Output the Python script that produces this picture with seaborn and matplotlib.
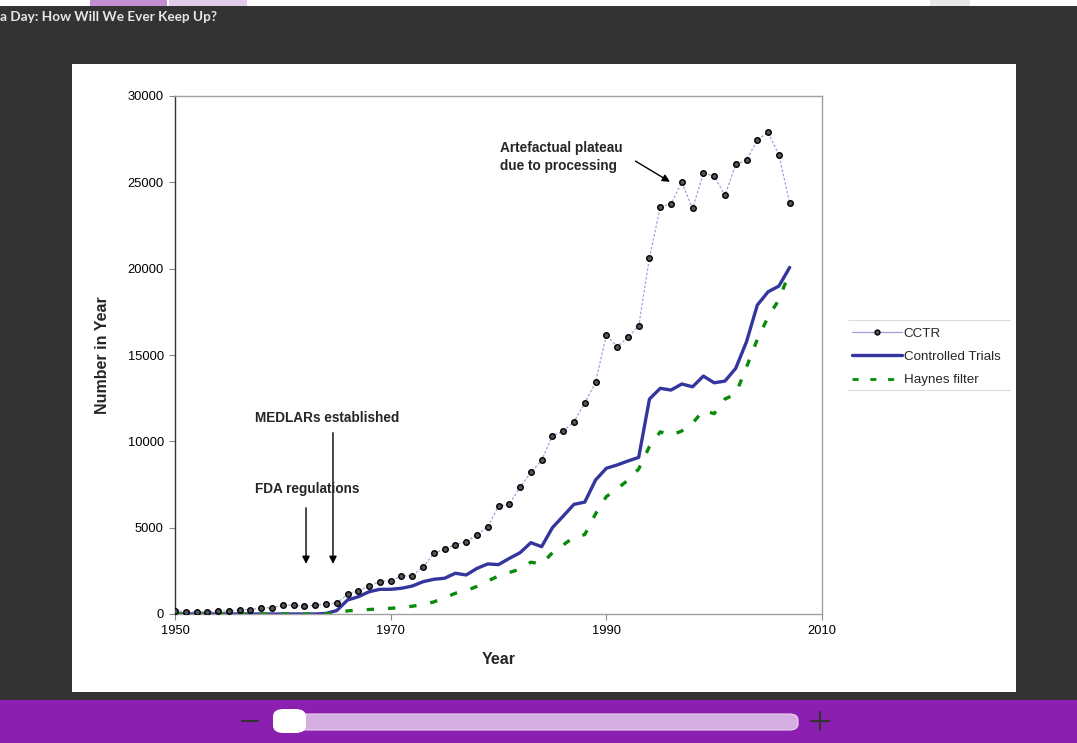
import numpy as np
import pandas as pd
import seaborn as sns
import matplotlib
matplotlib.use("Agg")
import matplotlib.pyplot as plt
from matplotlib.patches import Rectangle, FancyBboxPatch
from matplotlib.lines import Line2D

years = list(range(1950, 2008))

cctr = [190, 130, 130, 130, 170, 170, 230, 250, 360, 360,
        500, 520, 450, 520, 580, 620, 1140, 1330, 1640, 1870,
        1930, 2200, 2220, 2720, 3510, 3760, 4010, 4190, 4590, 5050,
        6240, 6350, 7350, 8200, 8900, 10310, 10600, 11130, 12220, 13410,
        16170, 15480, 16020, 16680, 20630, 23580, 23760, 25000, 23490, 25530,
        25360, 24240, 26040, 26270, 27460, 27890, 26590, 23810]

controlled = [0] * 14 + [30, 200, 810, 1000, 1290, 1430,
        1430, 1490, 1620, 1870, 2010, 2070, 2360, 2260, 2640, 2900,
        2860, 3220, 3550, 4130, 3900, 5000, 5670, 6350, 6480, 7760,
        8440, 8630, 8860, 9070, 12450, 13070, 12970, 13320, 13160, 13780,
        13390, 13490, 14230, 15770, 17890, 18660, 18990, 20070]

haynes = [0] * 15 + [50, 180, 230, 260, 290,
        330, 380, 450, 550, 700, 940, 1200, 1350, 1600, 1910,
        2200, 2400, 2600, 3000, 2900, 3550, 4000, 4450, 4600, 5800,
        6800, 7250, 7750, 8400, 9700, 10550, 10350, 10600, 11050, 11800,
        11600, 12450, 12750, 14300, 15900, 17200, 18200, 19800]

series_names = ["CCTR", "Controlled Trials", "Haynes filter"]
x_ticks = [1950, 1970, 1990, 2010]
y_ticks = [0, 5000, 10000, 15000, 20000, 25000, 30000]
title_text = "a Day: How Will We Ever Keep Up?"

df = pd.DataFrame({"Year": years, "CCTR": cctr,
                   "Controlled Trials": controlled, "Haynes filter": haynes})

sns.set_theme(style="white")
plt.rcParams["font.family"] = ["Liberation Sans", "DejaVu Sans"]

W, H = 1077, 743
fig = plt.figure(figsize=(W / 100, H / 100), dpi=100)
fig.patch.set_facecolor("#333333")

def fx(px):
    return px / W

def fy(py):
    return 1 - py / H

# top strip
fig.add_artist(Rectangle((0, fy(6)), 1, 6 / H, transform=fig.transFigure,
                         facecolor="white", edgecolor="none", zorder=0))
fig.add_artist(Rectangle((fx(90), fy(6)), 77 / W, 6 / H, transform=fig.transFigure,
                         facecolor="#c38fd3", edgecolor="none", zorder=1))
fig.add_artist(Rectangle((fx(169), fy(6)), 78 / W, 6 / H, transform=fig.transFigure,
                         facecolor="#e2cce9", edgecolor="none", zorder=1))
fig.add_artist(Rectangle((fx(930), fy(6)), 40 / W, 6 / H, transform=fig.transFigure,
                         facecolor="#e8e8e8", edgecolor="none", zorder=1))
fig.text(fx(0), fy(17), title_text, color="#e6e6e6", fontsize=9.8,
         fontweight="bold", family=["Lato", "DejaVu Sans"], va="center", ha="left")

# white slide panel
fig.add_artist(Rectangle((fx(72), fy(692)), (1016 - 72) / W, (692 - 64) / H,
                         transform=fig.transFigure, facecolor="white",
                         edgecolor="none", zorder=0))
# purple bottom bar
fig.add_artist(Rectangle((0, 0), 1, (743 - 700) / H, transform=fig.transFigure,
                         facecolor="#8a1fb0", edgecolor="none", zorder=0))
fig.add_artist(FancyBboxPatch((fx(292), fy(730)), (798 - 292) / W, 16 / H,
                              boxstyle="round,pad=0,rounding_size=0.008",
                              transform=fig.transFigure, facecolor="#d5afe1",
                              edgecolor="#e8d6ee", lw=0.8, zorder=1))
fig.add_artist(FancyBboxPatch((fx(273), fy(733)), 33 / W, 24 / H,
                              boxstyle="round,pad=0,rounding_size=0.01",
                              transform=fig.transFigure, facecolor="white",
                              edgecolor="none", zorder=2))
fig.add_artist(Line2D([fx(242), fx(258)], [fy(721), fy(721)], transform=fig.transFigure,
                      color="#333333", lw=1.5))
fig.add_artist(Line2D([fx(811), fx(829)], [fy(721), fy(721)], transform=fig.transFigure,
                      color="#333333", lw=1.5))
fig.add_artist(Line2D([fx(820), fx(820)], [fy(712), fy(730)], transform=fig.transFigure,
                      color="#333333", lw=1.5))

ax = fig.add_axes([fx(175), fy(614), (822 - 175) / W, (614 - 96) / H])
ax.set_facecolor("white")

sns.lineplot(data=df, x="Year", y="CCTR", ax=ax, color="#a0a0e0", lw=0.9,
             linestyle=(0, (2, 1.5)), marker="o", markersize=4.0,
             markerfacecolor="#555555", markeredgecolor="black",
             markeredgewidth=1.0, label="CCTR", zorder=3)
sns.lineplot(data=df, x="Year", y="Controlled Trials", ax=ax, color="#35359e",
             lw=2.4, label="Controlled Trials", zorder=2)
sns.lineplot(data=df, x="Year", y="Haynes filter", ax=ax, color="#0a8a0a",
             lw=2.4, linestyle=(0, (2.2, 4.2)), label="Haynes filter", zorder=2)

ax.set_xlim(1950, 2010)
ax.set_ylim(0, 30000)
ax.set_xticks(x_ticks)
ax.set_yticks(y_ticks)
ax.set_xticklabels([str(v) for v in x_ticks], fontsize=9.3)
ax.set_yticklabels([str(v) for v in y_ticks], fontsize=9.3)
ax.tick_params(axis="both", direction="out", length=4, width=0.8,
               color="#888888", pad=4, labelcolor="black")
ax.tick_params(left=True, bottom=True)
for s in ["top", "right", "bottom"]:
    ax.spines[s].set_color("#a0a0a0")
    ax.spines[s].set_linewidth(1.0)
ax.spines["left"].set_color("#333333")
ax.spines["left"].set_linewidth(1.0)

ax.set_xlabel("Year", fontsize=11.5, fontweight="bold", labelpad=11)
ax.set_ylabel("Number in Year", fontsize=11.5, fontweight="bold", labelpad=13)

# annotations
ax.annotate("", xy=(1995.9, 25030), xytext=(1992.7, 26230),
            arrowprops=dict(arrowstyle="-|>", color="black", lw=1.0,
                            mutation_scale=11, shrinkA=0, shrinkB=0))
ax.text(1980.1, 26470, "Artefactual plateau\ndue to processing", fontsize=9.8,
        fontweight="bold", ha="left", va="center", linespacing=1.3)
ax.annotate("", xy=(1964.65, 2900), xytext=(1964.65, 10500),
            arrowprops=dict(arrowstyle="-|>", color="black", lw=1.0,
                            mutation_scale=11, shrinkA=0, shrinkB=0))
ax.text(1957.4, 11350, "MEDLARs established", fontsize=9.8, fontweight="bold",
        ha="left", va="center")
ax.annotate("", xy=(1962.15, 2900), xytext=(1962.15, 6150),
            arrowprops=dict(arrowstyle="-|>", color="black", lw=1.0,
                            mutation_scale=11, shrinkA=0, shrinkB=0))
ax.text(1957.4, 7240, "FDA regulations", fontsize=9.8, fontweight="bold",
        ha="left", va="center")

# legend
ax.get_legend().remove()
handles = [
    Line2D([], [], color="#a0a0e0", lw=0.9, marker="o", markersize=3.5,
           markerfacecolor="#555555", markeredgecolor="black"),
    Line2D([], [], color="#35359e", lw=2.4),
    Line2D([], [], color="#0a8a0a", lw=2.0, linestyle=(0, (2.2, 4.2))),
]
leg = fig.legend(handles, series_names, loc="upper left",
                 bbox_to_anchor=(fx(847), fy(322)), fontsize=9.6, frameon=False,
                 handlelength=3.7, handletextpad=0.15, labelspacing=0.82,
                 borderaxespad=0)
fig.add_artist(Line2D([fx(848), fx(1010)], [fy(320), fy(320)], transform=fig.transFigure,
                      color="#dddddd", lw=0.8))
fig.add_artist(Line2D([fx(848), fx(1010)], [fy(390), fy(390)], transform=fig.transFigure,
                      color="#dddddd", lw=0.8))

fig.savefig("out.png", dpi=100, facecolor=fig.get_facecolor())
